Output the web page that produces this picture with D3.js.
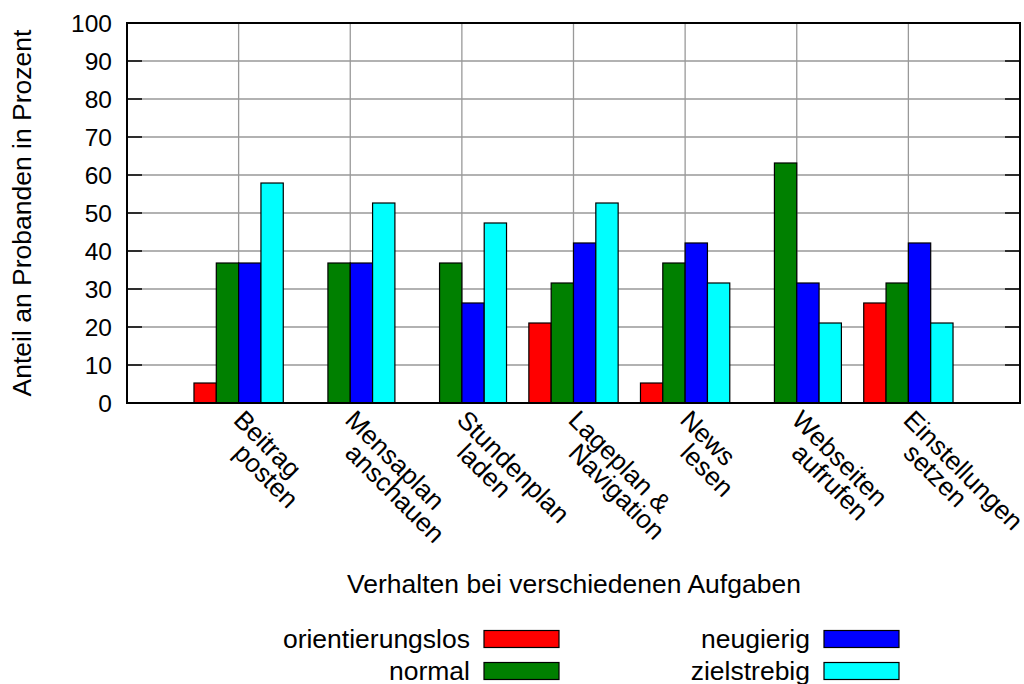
<!DOCTYPE html>
<meta charset="utf-8">
<style>
  body { margin: 0; background: #fff; }
  text { font-family: "Liberation Sans", Arial, sans-serif; fill: #000; }
</style>
<body>
<script src="https://d3js.org/d3.v7.min.js"></script>
<script>
  // data: share of test persons (percent) per task and behaviour
  const categories = [
    ["Beitrag", "posten"],
    ["Mensaplan", "anschauen"],
    ["Stundenplan", "laden"],
    ["Lageplan &", "Navigation"],
    ["News", "lesen"],
    ["Webseiten", "aufrufen"],
    ["Einstellungen", "setzen"]
  ];
  const seriesNames = ["orientierungslos", "normal", "neugierig", "zielstrebig"];
  const seriesColors = ["#ff0000", "#008000", "#0000ff", "#00ffff"];
  const orientierungslos = [5.26, 0, 0, 21.05, 5.26, 0, 26.32];
  const normal = [36.84, 36.84, 36.84, 31.58, 36.84, 63.16, 31.58];
  const neugierig = [36.84, 36.84, 26.32, 42.11, 42.11, 31.58, 42.11];
  const zielstrebig = [57.89, 52.63, 47.37, 52.63, 31.58, 21.05, 21.05];
  const series = [orientierungslos, normal, neugierig, zielstrebig];
  const yTicks = [0, 10, 20, 30, 40, 50, 60, 70, 80, 90, 100];

  const W = 1024, H = 684;
  const margin = {top: 23, right: 4, bottom: 281, left: 127};
  const width = W - margin.left - margin.right,
        height = H - margin.top - margin.bottom;

  const x = d3.scaleLinear().domain([0, categories.length + 1]).range([0, width]);
  const y = d3.scaleLinear().domain([0, 100]).range([height, 0]);
  const barW = 0.2;

  const svg = d3.select("body").append("svg")
      .attr("width", W).attr("height", H);
  const g = svg.append("g")
      .attr("transform", "translate(" + margin.left + "," + margin.top + ")");

  // grid
  g.selectAll(".hgrid").data(yTicks.slice(1, -1)).enter()
    .append("line")
      .attr("x1", 0).attr("x2", width)
      .attr("y1", d => y(d)).attr("y2", d => y(d))
      .attr("stroke", "#999").attr("stroke-width", 1.3);
  g.selectAll(".vgrid").data(categories).enter()
    .append("line")
      .attr("x1", (d, i) => x(i + 1)).attr("x2", (d, i) => x(i + 1))
      .attr("y1", 0).attr("y2", height)
      .attr("stroke", "#999").attr("stroke-width", 1.3);

  // y ticks, left and right, pointing inwards
  const tickLen = 15;
  g.selectAll(".ytl").data(yTicks).enter()
    .append("line")
      .attr("x1", 0).attr("x2", tickLen)
      .attr("y1", d => y(d)).attr("y2", d => y(d))
      .attr("stroke", "#000").attr("stroke-width", 1.5);
  g.selectAll(".ytr").data(yTicks).enter()
    .append("line")
      .attr("x1", width - tickLen).attr("x2", width)
      .attr("y1", d => y(d)).attr("y2", d => y(d))
      .attr("stroke", "#000").attr("stroke-width", 1.5);
  g.selectAll(".ylab").data(yTicks).enter()
    .append("text")
      .attr("x", -15).attr("y", d => y(d))
      .attr("dy", "0.36em")
      .attr("text-anchor", "end")
      .style("font-size", "24.5px")
      .text(d => d);

  // bars
  series.forEach((vals, s) => {
    g.selectAll(".bar" + s).data(vals).enter()
      .append("rect")
        .attr("x", (d, i) => x(i + 1 - 0.4 + s * barW))
        .attr("width", x(barW) - x(0))
        .attr("y", d => y(d))
        .attr("height", d => y(0) - y(d))
        .attr("fill", seriesColors[s])
        .attr("stroke", "#000").attr("stroke-width", 1.2);
  });

  // frame
  g.append("rect")
    .attr("width", width).attr("height", height)
    .attr("fill", "none").attr("stroke", "#000").attr("stroke-width", 2);

  // category labels, rotated, each line shifted straight down
  categories.forEach((lines, i) => {
    lines.forEach((t, j) => {
      g.append("text")
        .attr("transform", "translate(" + x(i + 1) + "," + (height + 12 + j * 33) + ") rotate(45)")
        .attr("dy", "0.35em")
        .style("font-size", "26px")
        .text(t);
    });
  });

  // axis titles
  svg.append("text")
    .attr("transform", "translate(31," + (margin.top + height / 2) + ") rotate(-90)")
    .attr("text-anchor", "middle")
    .style("font-size", "26.5px")
    .text("Anteil an Probanden in Prozent");
  svg.append("text")
    .attr("x", 574).attr("y", 593)
    .attr("text-anchor", "middle")
    .style("font-size", "26.5px")
    .text("Verhalten bei verschiedenen Aufgaben");

  // legend, two columns
  const legX = [470, 810], legY = [639, 671];
  seriesNames.forEach((name, s) => {
    const col = s < 2 ? 0 : 1, row = s % 2;
    svg.append("text")
      .attr("x", legX[col]).attr("y", legY[row])
      .attr("dy", "0.35em")
      .attr("text-anchor", "end")
      .style("font-size", "26.5px")
      .text(name);
    svg.append("rect")
      .attr("x", legX[col] + 14).attr("y", legY[row] - 8.5)
      .attr("width", 75).attr("height", 17)
      .attr("fill", seriesColors[s])
      .attr("stroke", "#000").attr("stroke-width", 1.2);
  });
</script>
</body>
